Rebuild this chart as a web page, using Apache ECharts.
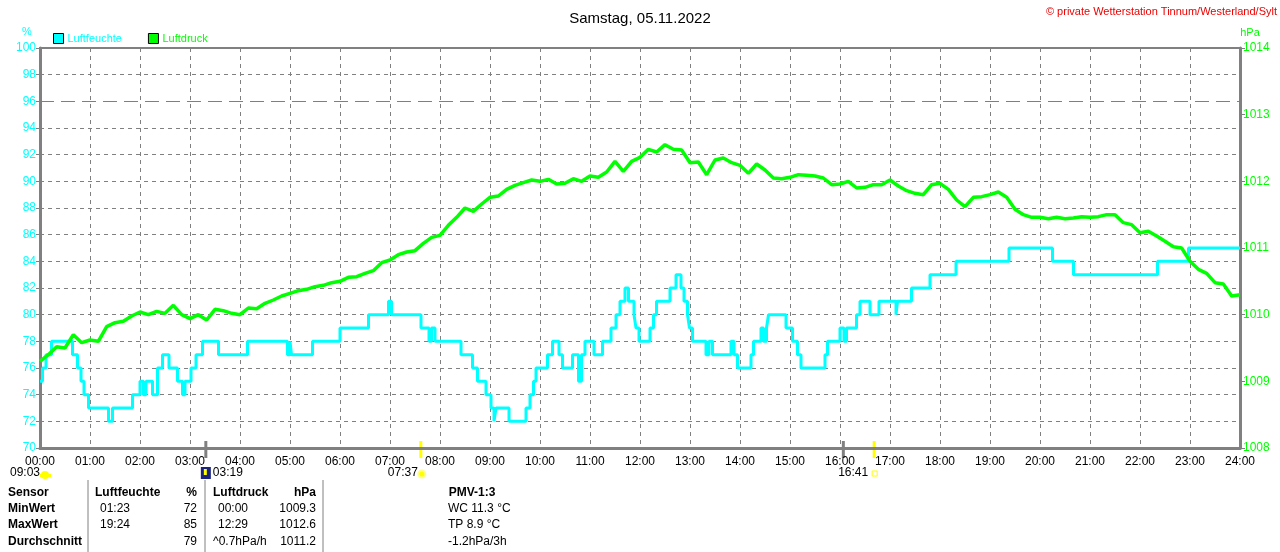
<!DOCTYPE html>
<html>
<head>
<meta charset="utf-8">
<style>
  html, body { margin: 0; padding: 0; background: #fff; }
  #chart { width: 1280px; height: 552px; }
</style>
<script src="https://cdn.jsdelivr.net/npm/echarts@6/dist/echarts.min.js"></script>
</head>
<body>
<div id="chart"></div>
<script>
// Stunden-Ticks 00:00 .. 24:00
const hours = [0, 1, 2, 3, 4, 5, 6, 7, 8, 9, 10, 11, 12, 13, 14, 15, 16, 17, 18, 19, 20, 21, 22, 23, 24];

// Luftfeuchte: Wechselpunkte [Stunde, %]
const humidity = [
  [0, 75], [0.05, 76], [0.12, 77], [0.23, 78], [0.65, 77], [0.75, 76], [0.82, 75], [0.88, 74], [0.97, 73],
  [1.37, 72], [1.45, 73], [1.85, 74], [2.0, 75], [2.07, 74], [2.12, 75], [2.25, 74], [2.35, 76], [2.45, 77],
  [2.58, 76], [2.75, 75], [2.85, 74], [2.9, 75], [3.02, 76], [3.12, 77], [3.25, 78], [3.57, 77], [4.15, 78],
  [4.95, 77], [5.0, 78], [5.03, 77], [5.45, 78], [6.0, 79], [6.57, 80], [6.97, 81], [7.03, 80], [7.62, 79],
  [7.78, 78], [7.83, 79], [7.9, 78], [8.42, 77], [8.65, 76], [8.75, 75], [8.92, 74], [9.02, 73], [9.08, 72],
  [9.12, 73], [9.38, 72], [9.72, 73], [9.8, 74], [9.87, 75], [9.92, 76], [10.15, 77], [10.25, 78], [10.38, 77],
  [10.45, 76], [10.65, 77], [10.77, 75], [10.83, 77], [10.9, 78], [11.08, 77], [11.25, 78], [11.42, 79],
  [11.52, 80], [11.6, 81], [11.7, 82], [11.77, 81], [11.88, 80], [11.92, 79], [11.98, 78], [12.2, 79],
  [12.27, 80], [12.33, 81], [12.6, 82], [12.72, 83], [12.82, 82], [12.88, 81], [12.95, 80], [12.99, 79],
  [13.05, 78], [13.32, 77], [13.38, 78], [13.45, 77], [13.82, 78], [13.88, 77], [13.95, 76], [14.22, 77],
  [14.27, 78], [14.42, 79], [14.47, 78], [14.53, 79], [14.57, 80], [14.92, 79], [15.05, 78], [15.15, 77],
  [15.22, 76], [15.7, 77], [15.75, 78], [16.0, 79], [16.08, 78], [16.13, 79], [16.33, 80], [16.4, 81],
  [16.6, 80], [16.78, 81], [17.12, 80], [17.15, 81], [17.43, 82], [17.8, 83], [18.32, 84], [19.38, 85],
  [20.25, 84], [20.67, 83], [22.35, 84], [22.97, 85], [24, 85]
];

// Luftdruck alle 10 Minuten (hPa), ab 00:00
const pressure = [
  1009.30, 1009.40, 1009.52, 1009.50, 1009.70, 1009.58, 1009.62, 1009.60, 1009.82, 1009.88, 1009.90, 1009.98,
  1010.04, 1010.00, 1010.05, 1010.02, 1010.14, 1010.00, 1009.94, 1010.00, 1009.92, 1010.08, 1010.06, 1010.02,
  1010.00, 1010.10, 1010.09, 1010.17, 1010.22, 1010.28, 1010.32, 1010.36, 1010.38, 1010.42, 1010.44, 1010.48,
  1010.50, 1010.56, 1010.57, 1010.62, 1010.66, 1010.78, 1010.82, 1010.90, 1010.94, 1010.96, 1011.07, 1011.16,
  1011.19, 1011.34, 1011.46, 1011.60, 1011.55, 1011.66, 1011.76, 1011.78, 1011.88, 1011.94, 1011.98, 1012.02,
  1012.00, 1012.03, 1011.96, 1011.97, 1012.04, 1012.00, 1012.08, 1012.06, 1012.14, 1012.30, 1012.15, 1012.30,
  1012.36, 1012.48, 1012.44, 1012.55, 1012.48, 1012.47, 1012.28, 1012.29, 1012.10, 1012.32, 1012.35, 1012.28,
  1012.24, 1012.12, 1012.26, 1012.17, 1012.05, 1012.04, 1012.06, 1012.10, 1012.09, 1012.08, 1012.05, 1011.95,
  1011.96, 1012.00, 1011.90, 1011.91, 1011.95, 1011.95, 1012.02, 1011.93, 1011.86, 1011.82, 1011.80, 1011.95,
  1011.97, 1011.88, 1011.72, 1011.62, 1011.76, 1011.77, 1011.80, 1011.84, 1011.76, 1011.58, 1011.50, 1011.46,
  1011.46, 1011.44, 1011.46, 1011.44, 1011.45, 1011.47, 1011.46, 1011.47, 1011.50, 1011.50, 1011.38, 1011.35,
  1011.23, 1011.25, 1011.18, 1011.10, 1011.02, 1011.00, 1010.80, 1010.68, 1010.62, 1010.48, 1010.46, 1010.28,
  1010.30
];

// Sonne/Mond Markierungen [Stunde, Text, Farbe]
const marks = [[3 + 19 / 60, '03:19', '#808080'], [7 + 37 / 60, '07:37', '#ffff00'], [16 + 4 / 60, '', '#808080'], [16 + 41 / 60, '16:41', '#ffff00']];

// Tabelle unten
const tableRows = [
  ['Sensor', 'Luftfeuchte', '%', 'Luftdruck', 'hPa', 'PMV-1:3'],
  ['MinWert', '01:23', '72', '00:00', '1009.3', 'WC 11.3 °C'],
  ['MaxWert', '19:24', '85', '12:29', '1012.6', 'TP 8.9 °C'],
  ['Durchschnitt', '', '79', '^0.7hPa/h', '1011.2', '-1.2hPa/3h']
];

const FONT = 'Liberation Sans, Arial, sans-serif';
const CYAN = '#00ffff';
const GREEN = '#00ff00';
const GRAY = '#808080';

const pressureData = pressure.map((p, i) => [i / 6, p]);
const pad = n => (n < 10 ? '0' : '') + n;

// Gitterlinien 70..100: bei 96 nur die gruene Marke
const hGridColors = [];
for (let v = 70; v <= 100; v += 2) hGridColors.push(v === 96 ? 'rgba(0,0,0,0)' : GRAY);

const chart = echarts.init(document.getElementById('chart'));
chart.setOption({
  animation: false,
  backgroundColor: '#fff',
  textStyle: { fontFamily: FONT },
  title: {
    text: 'Samstag, 05.11.2022',
    left: 'center', top: 6,
    textStyle: { fontSize: 15, fontWeight: 'normal', color: '#000', fontFamily: FONT }
  },
  legend: {
    left: 48, top: 28,
    itemWidth: 10, itemHeight: 10, itemGap: 26,
    icon: 'rect',
    itemStyle: { borderColor: '#000', borderWidth: 1 },
    textStyle: { fontSize: 11, fontFamily: FONT, padding: [0, 0, 0, -1] },
    data: [
      { name: 'Luftfeuchte', textStyle: { color: CYAN } },
      { name: 'Luftdruck', textStyle: { color: GREEN } }
    ]
  },
  grid: {
    left: 40, right: 40, top: 48, bottom: 104,
    show: true, borderColor: GRAY, borderWidth: 2
  },
  xAxis: {
    type: 'value', min: 0, max: 24, interval: 1,
    axisLine: { lineStyle: { color: GRAY, width: 3 } },
    axisTick: { show: false },
    axisLabel: { color: '#000', fontSize: 12, margin: 8, formatter: v => hours.includes(v) ? pad(v) + ':00' : '' },
    splitLine: { show: true, lineStyle: { color: GRAY, type: [4, 4], width: 1 } }
  },
  yAxis: [
    {
      type: 'value', min: 70, max: 100, interval: 2,
      axisLine: { show: true, lineStyle: { color: GRAY, width: 3 } },
      axisTick: { show: true, length: 4, lineStyle: { color: GRAY } },
      axisLabel: { color: CYAN, fontSize: 12, margin: 4 },
      splitLine: { show: true, lineStyle: { color: hGridColors, type: [4, 4], width: 1 } }
    },
    {
      type: 'value', min: 1008, max: 1014, interval: 1,
      axisLine: { show: true, lineStyle: { color: GRAY, width: 3 } },
      axisTick: { show: true, length: 5, lineStyle: { color: GRAY } },
      axisLabel: { color: GREEN, fontSize: 12, margin: 3, formatter: v => String(v) },
      splitLine: { show: false }
    }
  ],
  series: [
    {
      name: 'Luftfeuchte', type: 'line', step: 'end', showSymbol: false,
      data: humidity, color: CYAN,
      lineStyle: { color: CYAN, width: 3 },
      markLine: {
        silent: true, symbol: 'none', label: { show: false },
        emphasis: { disabled: true },
        lineStyle: { color: '#11cc11', type: [14, 7], width: 1, opacity: 1 },
        data: [{ yAxis: 96 }]
      }
    },
    {
      name: 'Luftdruck', type: 'line', yAxisIndex: 1, showSymbol: false,
      data: pressureData, color: GREEN,
      lineStyle: { color: GREEN, width: 3.5 }
    }
  ]
});

// Beschriftungen, Markierungen, Tabelle
const g = [];
const txt = (x, y, s, o) => g.push({
  type: 'text', x, y,
  style: Object.assign({ text: s, font: '11px ' + FONT, fill: '#000', textVerticalAlign: 'middle' }, o || {})
});

txt(27, 32, '%', { fill: CYAN, textAlign: 'center' });
txt(1250, 33, 'hPa', { fill: GREEN, textAlign: 'center' });
txt(1277, 12, '© private Wetterstation Tinnum/Westerland/Sylt', { fill: '#ee0000', textAlign: 'right' });

// Sonnenaufgang (Wolke) bei 09:03 links
txt(10, 473, '09:03', { font: '12px ' + FONT });
g.push({ type: 'circle', shape: { cx: 45, cy: 475, r: 4 }, style: { fill: '#ffff00' } });
g.push({ type: 'rect', shape: { x: 40, y: 474, width: 11, height: 3 }, style: { fill: '#ffff00' } });

marks.forEach(([h, label, color]) => {
  const x = chart.convertToPixel({ xAxisIndex: 0 }, h);
  g.push({ type: 'line', shape: { x1: x, y1: 441, x2: x, y2: 458 }, style: { stroke: color, lineWidth: 3 } });
  if (!label) return;
  if (color === GRAY) {
    g.push({ type: 'rect', shape: { x: x - 5, y: 467, width: 10, height: 12 }, style: { fill: '#1a237e' } });
    g.push({ type: 'rect', shape: { x: x - 2, y: 469, width: 3, height: 6 }, style: { fill: '#ffff00' } });
    txt(x + 7, 473, label, { font: '12px ' + FONT });
  } else if (h < 12) {
    txt(x - 3, 473, label, { font: '12px ' + FONT, textAlign: 'right' });
    g.push({ type: 'circle', shape: { cx: x + 1, cy: 474, r: 3.5 }, style: { fill: '#ffff00', stroke: '#ffff88', lineWidth: 2 } });
  } else {
    txt(x - 6, 473, label, { font: '12px ' + FONT, textAlign: 'right' });
    g.push({ type: 'rect', shape: { x: x - 2, y: 471, width: 5, height: 5 }, style: { fill: '#fff', stroke: '#ffff00', lineWidth: 1 } });
  }
});

[88, 205, 323].forEach(x => g.push({ type: 'line', shape: { x1: x, y1: 480, x2: x, y2: 552 }, style: { stroke: GRAY, lineWidth: 1 } }));

const colX = [8, 95, 197, 213, 316, 472];
const colAlign = ['left', 'left', 'right', 'left', 'right', 'center'];
const rowY = [493, 509, 525, 542];
tableRows.forEach((row, r) => {
  row.forEach((s, c) => {
    if (!s) return;
    let x = colX[c];
    let align = colAlign[c];
    if (r > 0 && (c === 1 || c === 3)) x += 5;
    if (r > 0 && c === 5) { x = 448; align = 'left'; }
    if (r === 3 && c === 3) x = 213;
    const bold = r === 0 || c === 0;
    txt(x, rowY[r], s, { textAlign: align, font: (bold ? 'bold ' : '') + '12px ' + FONT });
  });
});

chart.setOption({ graphic: g });
</script>
</body>
</html>
